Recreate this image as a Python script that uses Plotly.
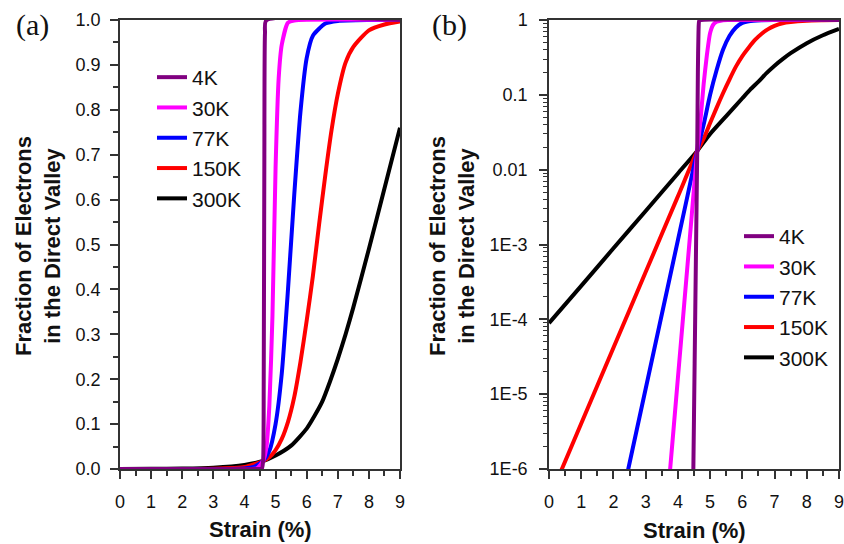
import plotly.graph_objects as go

# ---------------- data ----------------
names = ["4K", "30K", "77K", "150K", "300K"]
colors = ["#800080", "#ff00ff", "#0000ff", "#ff0000", "#000000"]

strain_4k = [0, 4.40, 4.48, 4.52, 4.56, 4.60, 4.62, 4.64, 4.66, 4.70, 9.0]
frac_4k = [1e-12, 1e-9, 1e-6, 2.6e-5, 7e-4, 0.0178, 0.20, 0.70, 0.97, 0.999, 1.0]

strain_30k = [0, 3.50, 3.76, 4.00, 4.20, 4.40, 4.60, 4.70, 4.80, 4.90, 5.00, 5.10, 5.20, 5.40, 5.60, 9.0]
frac_30k = [1e-12, 5e-8, 1e-6, 1.64e-5, 1.68e-4, 1.73e-3, 0.0178, 0.045, 0.14, 0.34,
            0.67, 0.87, 0.945, 0.994, 0.999, 1.0]

strain_77k = [0, 2.00, 2.46, 3.00, 3.50, 4.00, 4.30, 4.60, 4.80, 5.00, 5.20, 5.40, 5.60,
              5.80, 6.00, 6.20, 6.60, 7.00, 8.00, 9.00]
frac_77k = [1e-12, 1.2e-7, 1e-6, 1.18e-5, 1.16e-4, 1.14e-3, 4.5e-3, 0.0178, 0.040, 0.100,
            0.213, 0.400, 0.610, 0.795, 0.915, 0.965, 0.992, 0.998, 1.0, 1.0]

strain_150k = [0, 0.40, 1.00, 2.00, 3.00, 4.00, 4.60, 4.80, 5.00, 5.20, 5.40, 5.60, 5.80,
               6.00, 6.20, 6.40, 6.60, 6.80, 7.00, 7.25, 7.50, 8.00, 8.50, 9.00]
frac_150k = [3.9e-7, 1e-6, 4.05e-6, 4.16e-5, 4.28e-4, 4.4e-3, 0.0178, 0.026, 0.042, 0.067,
             0.105, 0.160, 0.238, 0.330, 0.430, 0.545, 0.655, 0.755, 0.835, 0.905, 0.940,
             0.977, 0.990, 0.997]

strain_300k = [0, 1, 2, 3, 4, 4.6, 5.0, 5.5, 6.0, 6.25, 6.5, 6.75, 7.0, 7.25, 7.5, 8.0, 8.5, 9.0]
frac_300k = [8.9e-5, 2.8e-4, 8.9e-4, 2.8e-3, 8.9e-3, 0.0178, 0.030, 0.052, 0.090, 0.118,
             0.150, 0.195, 0.245, 0.300, 0.360, 0.490, 0.625, 0.760]

strains = [strain_4k, strain_30k, strain_77k, strain_150k, strain_300k]
fracs = [frac_4k, frac_30k, frac_77k, frac_150k, frac_300k]

lin_ticks = [round(0.1 * i, 1) for i in range(11)]
log_tickvals = [1e-6, 1e-5, 1e-4, 1e-3, 1e-2, 1e-1, 1]
log_ticktext = ["1E-6", "1E-5", "1E-4", "1E-3", "0.01", "0.1", "1"]
log_minor = [m * 10.0 ** e for e in range(-6, 0) for m in range(2, 10)]

# ---------------- figure ----------------
W, H = 844, 544
fig = go.Figure()

for i in reversed(range(len(names))):
    fig.add_trace(go.Scatter(x=strains[i], y=fracs[i], mode="lines", name=names[i],
                             line=dict(color=colors[i], width=4, shape="spline", smoothing=0.6),
                             xaxis="x", yaxis="y", legend="legend"))
for i in reversed(range(len(names))):
    fig.add_trace(go.Scatter(x=strains[i], y=fracs[i], mode="lines", name=names[i],
                             line=dict(color=colors[i], width=4, shape="spline", smoothing=0.6),
                             xaxis="x2", yaxis="y2", legend="legend2"))

tickfont = dict(family="Liberation Sans, Arial, sans-serif", size=18, color="#111")
common = dict(showline=True, linecolor="#333", linewidth=1.5, mirror=True,
              ticks="outside", ticklen=8, tickwidth=1.5, tickcolor="#333",
              showgrid=False, zeroline=False, tickfont=tickfont, automargin=False,
              ticklabeloverflow="allow")
xminor = dict(dtick=0.5, ticks="outside", ticklen=5, tickwidth=1.5, tickcolor="#333")

ybot, ytop = 1 - 469 / H, 1 - 20 / H
legend_font = dict(family="Liberation Sans, Arial, sans-serif", size=21, color="#111")

fig.update_layout(
    width=W, height=H, autosize=False,
    margin=dict(l=0, r=0, t=0, b=0, autoexpand=False),
    paper_bgcolor="white", plot_bgcolor="white",
    xaxis=dict(domain=[120 / W, 400 / W], range=[0, 9], tick0=0, dtick=1, anchor="y",
               minor=xminor, ticklabelstandoff=8, **common),
    yaxis=dict(domain=[ybot, ytop], range=[0, 1], tickvals=lin_ticks, tickformat=".1f",
               anchor="x", minor=dict(dtick=0.05, ticks="outside", ticklen=5, tickwidth=1.5,
                                      tickcolor="#333"),
               ticklabelstandoff=6, **common),
    xaxis2=dict(domain=[549 / W, 839 / W], range=[0, 9], tick0=0, dtick=1, anchor="y2",
                minor=xminor, ticklabelstandoff=8, **common),
    yaxis2=dict(domain=[ybot, ytop], type="log", range=[-6, 0], tickvals=log_tickvals,
                ticktext=log_ticktext, anchor="x2",
                minor=dict(tickvals=log_minor, ticks="outside", ticklen=4, tickwidth=1,
                           tickcolor="#333"),
                ticklabelstandoff=8, **common),
    legend=dict(x=152 / W, y=1 - 57 / H, xanchor="left", yanchor="top", traceorder="reversed",
                bgcolor="rgba(0,0,0,0)", borderwidth=0, font=legend_font),
    legend2=dict(x=739 / W, y=1 - 216 / H, xanchor="left", yanchor="top", traceorder="reversed",
                 bgcolor="rgba(0,0,0,0)", borderwidth=0, font=legend_font),
    showlegend=True,
)

title_font = dict(family="Liberation Sans, Arial, sans-serif", size=22, color="#111", weight="bold")
serif_font = dict(family="Liberation Serif, Times New Roman, serif", size=30, color="#111")
ytitle = "Fraction of Electrons<br>in the Direct Valley"
ann = [
    dict(text="(a)", x=32 / W, y=1 - 25 / H, font=serif_font),
    dict(text="(b)", x=449 / W, y=1 - 25 / H, font=serif_font),
    dict(text=ytitle, x=38 / W, y=1 - 246 / H, textangle=-90, font=title_font),
    dict(text=ytitle, x=452 / W, y=1 - 246 / H, textangle=-90, font=title_font),
    dict(text="Strain (%)", x=260 / W, y=1 - 529 / H, font=title_font),
    dict(text="Strain (%)", x=694 / W, y=1 - 530 / H, font=title_font),
]
for a in ann:
    fig.add_annotation(xref="paper", yref="paper", showarrow=False, xanchor="center",
                       yanchor="middle", **a)

fig.write_html("out.html")
